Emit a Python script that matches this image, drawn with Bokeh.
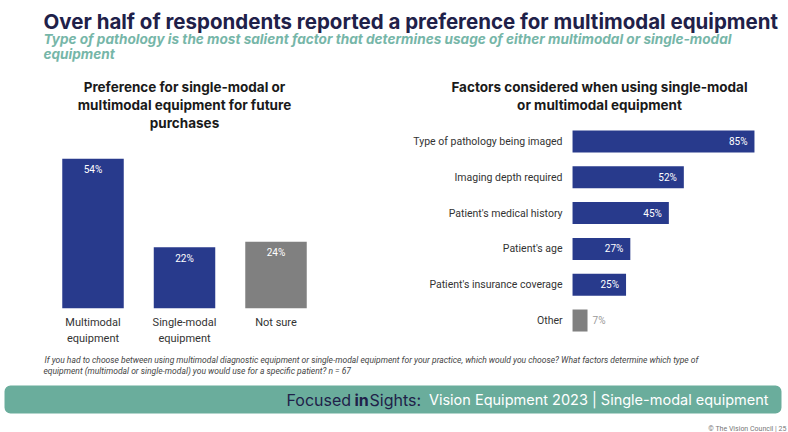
from bokeh.plotting import figure
from bokeh.models import Range1d, Label, BoxAnnotation, ColumnDataSource
from bokeh.layouts import column, row
from bokeh.embed import file_html
from bokeh.resources import INLINE
from bokeh.core.properties import value

# ---------------- data ----------------
pref_categories = ["Multimodal\nequipment", "Single-modal\nequipment", "Not sure"]
pref_values = [54, 22, 24]
pref_colors = ["#283a8c", "#283a8c", "#808080"]

factor_categories = [
    "Type of pathology being imaged",
    "Imaging depth required",
    "Patient's medical history",
    "Patient's age",
    "Patient's insurance coverage",
    "Other",
]
factor_values = [85, 52, 45, 27, 25, 7]
factor_colors = ["#283a8c", "#283a8c", "#283a8c", "#283a8c", "#283a8c", "#808080"]

title_text = "Over half of respondents reported a preference for multimodal equipment"
subtitle_lines = [
    "Type of pathology is the most salient factor that determines usage of either multimodal or single-modal",
    "equipment",
]
left_title_lines = ["Preference for single-modal or", "multimodal equipment for future", "purchases"]
right_title_lines = ["Factors considered when using single-modal", "or multimodal equipment"]
footnote_lines = [
    "If you had to choose between using multimodal diagnostic equipment or single-modal equipment for your practice, which would you choose? What factors determine which type of",
    "equipment (multimodal or single-modal) you would use for a specific patient? n = 67",
]

FONT = "Roboto"
HFONT = "Inter"
NAVY = "#1f2149"
TEAL = "#6aad9c"


def blank(width, height, x_range, y_range):
    p = figure(width=width, height=height, x_range=x_range, y_range=y_range,
               output_backend="svg", toolbar_location=None,
               x_axis_location=None, y_axis_location=None, min_border=0)
    p.grid.visible = False
    p.outline_line_color = None
    p.background_fill_color = "white"
    p.border_fill_color = "white"
    return p


def label(p, x, y, text, size, color, style="normal", align="left",
          baseline="middle", font=FONT):
    p.add_layout(Label(x=x, y=y, x_units="screen", y_units="screen", text=text,
                       text_font=font, text_font_size=size, text_font_style=style,
                       text_color=color, text_align=align, text_baseline=baseline))


# ---------------- header ----------------
header = blank(788, 75, Range1d(0, 1), Range1d(0, 1))
label(header, 43, 54, title_text, "20.5px", NAVY, "bold", baseline="alphabetic", font=HFONT)
label(header, 43, 37, subtitle_lines[0], "13.6px", "#76b6a8", "bold italic",
      baseline="alphabetic", font=HFONT)
label(header, 43, 22, subtitle_lines[1], "13.6px", "#76b6a8", "bold italic",
      baseline="alphabetic", font=HFONT)

# ---------------- left chart ----------------
left = blank(394, 270, Range1d(-1.011, 3.295), Range1d(-13.48, 84.1))
lsrc = ColumnDataSource(dict(
    x=list(range(len(pref_values))),
    top=pref_values,
    color=pref_colors,
    lab=[f"{v}%" for v in pref_values],
    cat=pref_categories,
))
left.vbar(x="x", top="top", bottom=0, width=0.672, fill_color="color",
          line_color=None, source=lsrc)
left.text(x="x", y="top", text="lab", source=lsrc, text_align="center",
          text_baseline="middle", y_offset=11, text_color="white",
          text_font=value(FONT), text_font_size="10px")
left.text(x="x", y=0, text="cat", source=lsrc, text_align="center",
          text_baseline="top", y_offset=8, text_color="#333333",
          text_font=value(FONT), text_font_size="11px", text_line_height=1.2)
for ly, t in zip([259, 241, 223], left_title_lines):
    label(left, 184, ly, t, "13.5px", "#1a1a1a", "bold", align="center", font=HFONT)

# ---------------- right chart ----------------
right = blank(394, 270, Range1d(-83.18, 100.9), Range1d(5.698, -1.8436))
rsrc = ColumnDataSource(dict(
    y=list(range(len(factor_values))),
    right=factor_values,
    color=factor_colors,
    cat=factor_categories,
))
right.hbar(y="y", right="right", left=0, height=0.615, fill_color="color",
           line_color=None, source=rsrc)
inside = [i for i, v in enumerate(factor_values) if v >= 10]
outside = [i for i, v in enumerate(factor_values) if v < 10]
isrc = ColumnDataSource(dict(y=inside, x=[factor_values[i] for i in inside],
                             lab=[f"{factor_values[i]}%" for i in inside]))
osrc = ColumnDataSource(dict(y=outside, x=[factor_values[i] for i in outside],
                             lab=[f"{factor_values[i]}%" for i in outside]))
right.text(x="x", y="y", text="lab", source=isrc, text_align="right",
           text_baseline="middle", x_offset=-7, text_color="white",
           text_font=value(FONT), text_font_size="10px")
right.text(x="x", y="y", text="lab", source=osrc, text_align="left",
           text_baseline="middle", x_offset=5, text_color="#9a9a9a",
           text_font=value(FONT), text_font_size="10px")
right.text(x=0, y="y", text="cat", source=rsrc, text_align="right",
           text_baseline="middle", x_offset=-10, text_color="#333333",
           text_font=value(FONT), text_font_size="10.5px")
for ly, t in zip([259, 241], right_title_lines):
    label(right, 205, ly, t, "13.5px", "#1a1a1a", "bold", align="center", font=HFONT)

# ---------------- footer ----------------
footer = blank(788, 87, Range1d(0, 1), Range1d(0, 1))
label(footer, 44, 73, footnote_lines[0], "8.5px", "#444444", "italic")
label(footer, 43, 62, footnote_lines[1], "8.5px", "#444444", "italic")
footer.add_layout(BoxAnnotation(left=4, right=781, bottom=19, top=47,
                                left_units="screen", right_units="screen",
                                bottom_units="screen", top_units="screen",
                                fill_color=TEAL, fill_alpha=1, line_color=None,
                                border_radius=6))
label(footer, 286, 33, "Focused", "16px", NAVY, font=HFONT)
label(footer, 354, 33, "in", "16px", NAVY, "bold", font=HFONT)
label(footer, 369, 33, "Sights:", "16px", NAVY, font=HFONT)
label(footer, 768, 33, "Vision Equipment 2023 | Single-modal equipment", "14.5px",
      "white", align="right", font=HFONT)
label(footer, 786, 4, "\u00a9 The Vision Council | 25", "7px", "#777777",
      align="right", baseline="middle")

layout = column(header, row(left, right), footer)
open("out.html", "w").write(file_html(layout, INLINE))
